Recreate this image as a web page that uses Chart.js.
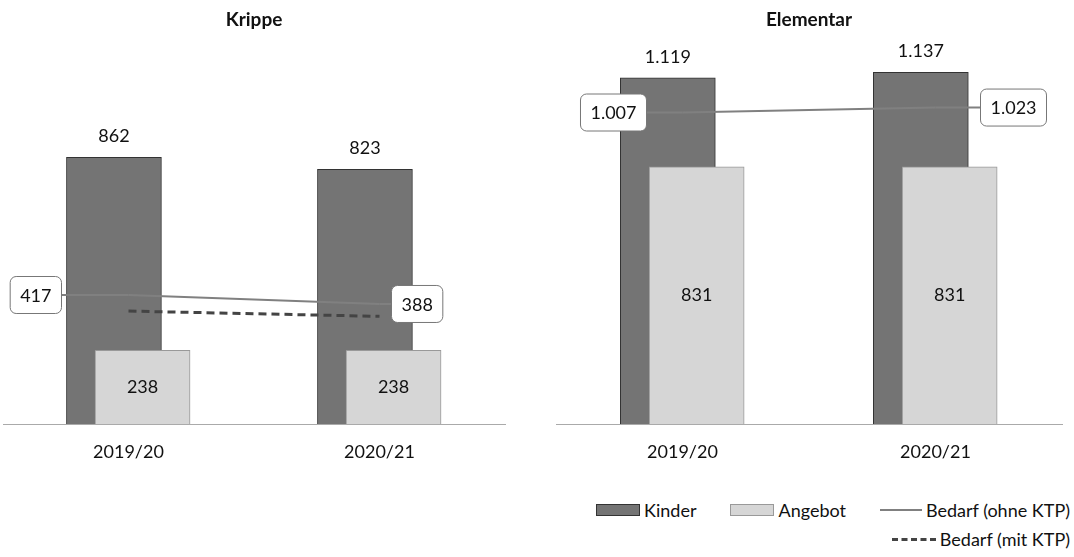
<!DOCTYPE html>
<html>
<head>
<meta charset="utf-8">
<script src="https://cdn.jsdelivr.net/npm/chart.js@4.4.0/dist/chart.umd.min.js"></script>
<style>
  body { margin: 0; background: #fff; width: 1074px; height: 557px; position: relative; overflow: hidden; font-family: Lato, sans-serif; }
  #krippe { position: absolute; left: 0; top: 0; }
  #elementar { position: absolute; left: 540px; top: 0; }
  #legend { position: absolute; right: 4px; top: 499px; width: 500px; display: flex; flex-wrap: wrap; justify-content: flex-end; gap: 7px 34px; font-size: 18px; color: #111; }
  #legend .item { display: flex; align-items: center; line-height: 22px; }
  #legend .sw { margin-right: 4px; }
</style>
</head>
<body>
<canvas id="krippe" width="530" height="480"></canvas>
<canvas id="elementar" width="534" height="480"></canvas>
<div id="legend"></div>
<script>
// categories
const years = ['2019/20', '2020/21'];

// Krippe
const krippeKinder = [862, 823];
const krippeAngebot = [238, 238];
const krippeBedarfOhne = [417, 388];
const krippeBedarfMit = [365, 348];

// Elementar
const elementarKinder = [1119, 1137];
const elementarAngebot = [831, 831];
const elementarBedarfOhne = [1007, 1023];

const seriesNames = ['Kinder', 'Angebot', 'Bedarf (ohne KTP)', 'Bedarf (mit KTP)'];

// styles
const kinderColor = '#747474';
const angebotColor = '#d6d6d6';
const ohneColor = '#808080';
const mitColor = '#444';

// draws the numbers: above Kinder, inside Angebot, boxed next to the Bedarf line
const valueLabels = {
  id: 'valueLabels',
  afterDatasetsDraw(chart, args, opts) {
    const ctx = chart.ctx;
    ctx.save();
    ctx.font = '18px Lato';
    ctx.fillStyle = '#111';
    ctx.textAlign = 'center';
    ctx.textBaseline = 'middle';
    chart.data.datasets.forEach((ds, di) => {
      const meta = chart.getDatasetMeta(di);
      meta.data.forEach((el, i) => {
        const txt = ds.data[i].y.toLocaleString('de-DE');
        if (ds.labelPos == 'top') {
          ctx.fillText(txt, el.x, el.y - 21);
        } else if (ds.labelPos == 'center') {
          ctx.fillText(txt, el.x, (el.y + el.base) / 2);
        } else if (ds.labelPos == 'box') {
          const w = ctx.measureText(txt).width + 20;
          const h = 37;
          const gap = opts.gaps[i];
          const bx = i == 0 ? el.x - gap - w : el.x + gap;
          // leader line from the label to its point
          ctx.beginPath();
          ctx.moveTo(i == 0 ? bx + w : bx, el.y);
          ctx.lineTo(el.x, el.y);
          ctx.strokeStyle = ds.borderColor;
          ctx.lineWidth = ds.borderWidth;
          ctx.stroke();
          ctx.beginPath();
          ctx.roundRect(bx, el.y - h / 2, w, h, 6);
          ctx.fillStyle = '#fff';
          ctx.fill();
          ctx.strokeStyle = '#777';
          ctx.lineWidth = 1;
          ctx.stroke();
          ctx.fillStyle = '#111';
          ctx.fillText(txt, bx + w / 2, el.y + 1);
        }
      });
    });
    ctx.restore();
  }
};

function points(values, shift) {
  return values.map((v, i) => ({ x: i + shift, y: v }));
}

function makeChart(id, title, kinder, angebot, ohne, mit, pad, gaps) {
  const datasets = [
    { type: 'bar', label: seriesNames[0], data: points(kinder, -0.058), backgroundColor: kinderColor,
      borderColor: '#333', borderWidth: 1, barThickness: 95, grouped: false, order: 3, labelPos: 'top' },
    { type: 'bar', label: seriesNames[1], data: points(angebot, 0.056), backgroundColor: angebotColor,
      borderColor: '#999', borderWidth: 1, barThickness: 95, grouped: false, order: 2, labelPos: 'center' },
    { type: 'line', label: seriesNames[2], data: points(ohne, 0), borderColor: ohneColor, borderWidth: 2,
      pointRadius: 0, order: 1, labelPos: 'box' }
  ];
  if (mit) {
    datasets.push({ type: 'line', label: seriesNames[3], data: points(mit, 0), borderColor: mitColor,
      borderWidth: 3, borderDash: [8, 5], pointRadius: 0, order: 0 });
  }
  return new Chart(document.getElementById(id), {
    type: 'bar',
    data: { datasets },
    options: {
      responsive: false,
      animation: false,
      layout: { padding: { left: pad[0], right: pad[1], top: 0, bottom: 0 } },
      plugins: {
        legend: { display: false },
        tooltip: { enabled: false },
        title: { display: true, text: title, color: '#111', font: { family: 'Lato', size: 19, weight: 'bold' },
          padding: { top: 8, bottom: 22 } },
        valueLabels: { gaps }
      },
      scales: {
        x: {
          type: 'linear', min: -0.5, max: 1.5, offset: false,
          afterBuildTicks: s => { s.ticks = years.map((y, i) => ({ value: i })); },
          afterFit: s => { s.height = 56; },
          ticks: { callback: v => years[v], color: '#111', padding: 17, autoSkip: false, maxRotation: 0,
            font: { family: 'Lato', size: 18 } },
          grid: { display: false, drawTicks: false },
          border: { display: true, color: '#aaa', dash: [3, 2], width: 1 }
        },
        y: { display: false, min: 0, max: 1200 }
      }
    },
    plugins: [valueLabels]
  });
}

const krippe = makeChart('krippe', 'Krippe', krippeKinder, krippeAngebot, krippeBedarfOhne, krippeBedarfMit, [3, 25], [67, 12]);
makeChart('elementar', 'Elementar', elementarKinder, elementarAngebot, elementarBedarfOhne, null, [16, 12], [36, 45]);

// legend built from the Krippe datasets (it has all four series)
const legend = document.getElementById('legend');
krippe.data.datasets.forEach(ds => {
  const item = document.createElement('div');
  item.className = 'item';
  const sw = document.createElement('span');
  sw.className = 'sw';
  if (ds.type == 'bar') {
    sw.style.cssText = `display:inline-block;width:42px;height:10px;background:${ds.backgroundColor};border:1px solid ${ds.borderColor};`;
  } else if (ds.borderDash) {
    sw.style.cssText = `display:inline-block;width:44px;height:0;border-top:3px dashed ${ds.borderColor};`;
  } else {
    sw.style.cssText = `display:inline-block;width:42px;height:0;border-top:2px solid ${ds.borderColor};`;
  }
  item.appendChild(sw);
  item.appendChild(document.createTextNode(ds.label));
  legend.appendChild(item);
});
</script>
</body>
</html>
